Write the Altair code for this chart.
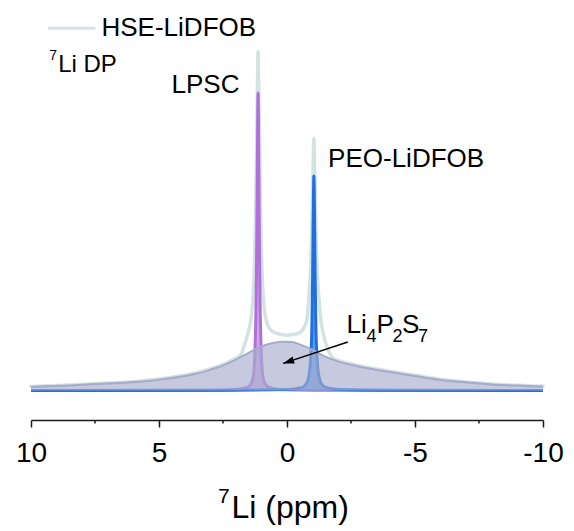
import altair as alt
import pandas as pd

# ---------------- data ----------------
# HSE-LiDFOB (light envelope line)
hse_ppm = [10, 8.5, 7, 6, 5, 4, 3, 2.5, 2, 1.8,
           1.6, 1.5, 1.4, 1.33, 1.27, 1.22, 1.18, 1.15, 1.13, 1.11,
           1.08, 1.04, 0.99, 0.93, 0.86, 0.76, 0.6, 0.4, 0.2, 0,
           -0.2, -0.4, -0.55, -0.68, -0.78, -0.85, -0.91, -0.96, -1.0, -1.03,
           -1.05, -1.07, -1.1, -1.14, -1.19, -1.25, -1.32, -1.42, -1.58, -1.8,
           -2, -2.5, -3, -4, -5, -6, -7, -8, -10]
hse_val = [0.012, 0.016, 0.022, 0.026, 0.034, 0.045, 0.064, 0.077, 0.095, 0.106,
           0.150, 0.175, 0.215, 0.27, 0.372, 0.54, 0.77, 0.92, 1.0, 0.92,
           0.78, 0.55, 0.38, 0.28, 0.226, 0.195, 0.176, 0.169, 0.165, 0.163,
           0.165, 0.168, 0.174, 0.188, 0.212, 0.27, 0.34, 0.45, 0.59, 0.695,
           0.744, 0.69, 0.59, 0.45, 0.34, 0.27, 0.21, 0.165, 0.125, 0.095,
           0.088, 0.079, 0.07, 0.057, 0.045, 0.033, 0.025, 0.019, 0.013]

# LPSC (purple)
lpsc_ppm = [10, 3, 2, 1.6, 1.45, 1.35, 1.29, 1.25, 1.21, 1.18, 1.15, 1.13,
            1.11, 1.08, 1.05, 1.01, 0.97, 0.91, 0.81, 0.66, 0.3, -1, -10]
lpsc_val = [0, 0.001, 0.003, 0.008, 0.015, 0.03, 0.06, 0.12, 0.25, 0.45, 0.75, 0.878,
            0.75, 0.45, 0.25, 0.12, 0.06, 0.03, 0.015, 0.008, 0.003, 0.001, 0]

# PEO-LiDFOB (blue)
peo_ppm = [10, 2, 0, -0.55, -0.7, -0.8, -0.87, -0.92, -0.97, -1.0, -1.03, -1.05,
           -1.07, -1.1, -1.13, -1.18, -1.23, -1.3, -1.4, -1.55, -2.1, -4, -10]
peo_val = [0, 0.001, 0.003, 0.008, 0.015, 0.027, 0.05, 0.09, 0.18, 0.33, 0.55, 0.633,
           0.55, 0.33, 0.18, 0.09, 0.05, 0.027, 0.015, 0.008, 0.003, 0.001, 0]

# Li4P2S7 (broad component)
li_ppm = [10, 8.5, 7, 6, 5, 4, 3.5, 3, 2.5, 2, 1.5, 1, 0.5, 0.2,
          -0.2, -0.5, -1, -1.5, -2, -2.5, -3, -4, -5, -6, -7, -8, -10]
li_val = [0.011, 0.015, 0.021, 0.025, 0.032, 0.043, 0.050, 0.061, 0.074, 0.091, 0.111, 0.130, 0.141, 0.144,
          0.143, 0.136, 0.120, 0.100, 0.086, 0.076, 0.068, 0.055, 0.043, 0.031, 0.024, 0.018, 0.012]

major_ticks = [10, 5, 0, -5, -10]
minor_ticks = [7.5, 2.5, -2.5, -7.5]

# annotations (text, anchor ppm, anchor intensity, font size)
ann_text = ["HSE-LiDFOB", "7", "Li DP", "LPSC", "PEO-LiDFOB",
            "Li", "4", "P", "2", "S", "7", "7", "Li (ppm)"]
ann_x = [7.246, 9.29, 8.94, 4.512, -1.605,
         -2.324, -3.105, -3.496, -4.121, -4.496, -5.121, 2.691, 2.168]
ann_y = [1.046, 0.975, 0.941, 0.879, 0.659,
         0.169, 0.142, 0.169, 0.142, 0.169, 0.142, -0.332, -0.377]
ann_size = [26, 14, 24, 26, 26, 26, 18, 26, 18, 26, 18, 21, 32]

legend_x = [9.33]
legend_x2 = [7.48]
legend_y = [1.069]

arrow_from = [-2.375, 0.143]
arrow_to = [0.15, 0.080]

FONT = "Liberation Sans"

# ---------------- chart ----------------
xs = alt.Scale(domain=[10, -10], nice=False, zero=False)
ys = alt.Scale(domain=[-0.0871, 1.1231], nice=False, zero=False)

xaxis = alt.Axis(values=major_ticks, title=None, grid=False,
                 tickSize=7, tickWidth=1.5, tickColor="#1a1a1a",
                 domainColor="#1a1a1a", domainWidth=1.5,
                 labelFont=FONT, labelFontSize=28, labelColor="black",
                 labelPadding=12, labelFlush=False, labelOverlap=False,
                 labelExpr="'' + datum.value")


def X(field="ppm"):
    return alt.X(f"{field}:Q", scale=xs, axis=xaxis)


def Y(field="val"):
    return alt.Y(f"{field}:Q", scale=ys, axis=None)


hse_df = pd.DataFrame({"ppm": hse_ppm, "val": hse_val})
lpsc_df = pd.DataFrame({"ppm": lpsc_ppm, "val": lpsc_val})
peo_df = pd.DataFrame({"ppm": peo_ppm, "val": peo_val})
li_df = pd.DataFrame({"ppm": li_ppm, "val": li_val})

hse_line = alt.Chart(hse_df).mark_line(
    color="#d3e2e2", strokeWidth=3.5, interpolate="monotone", strokeCap="round"
).encode(x=X(), y=Y())

lpsc_area = alt.Chart(lpsc_df).mark_area(
    color="#c59be4", opacity=0.85, interpolate="monotone"
).encode(x=X(), y=Y())
lpsc_line = alt.Chart(lpsc_df).mark_line(
    color="#b16fdc", strokeWidth=3, interpolate="monotone"
).encode(x=X(), y=Y())

peo_area = alt.Chart(peo_df).mark_area(
    color="#4a8fe8", opacity=0.85, interpolate="monotone"
).encode(x=X(), y=Y())
peo_line = alt.Chart(peo_df).mark_line(
    color="#1f6fe0", strokeWidth=3, interpolate="monotone"
).encode(x=X(), y=Y())

li_area = alt.Chart(li_df).mark_area(
    color="#a9aecd", opacity=0.65, interpolate="monotone"
).encode(x=X(), y=Y())
li_line = alt.Chart(li_df).mark_line(
    color="#a6abcd", strokeWidth=2, interpolate="monotone"
).encode(x=X(), y=Y())

leg_df = pd.DataFrame({"x": legend_x, "x2": legend_x2, "y": legend_y})
legend_rule = alt.Chart(leg_df).mark_rule(color="#d3e2e2", strokeWidth=3).encode(
    x=X("x"), x2="x2:Q", y=Y("y"))

arr_df = pd.DataFrame({"x": [arrow_from[0]], "y": [arrow_from[1]],
                       "x2": [arrow_to[0]], "y2": [arrow_to[1]]})
arrow_line = alt.Chart(arr_df).mark_rule(color="black", strokeWidth=1.5).encode(
    x=X("x"), y=Y("y"), x2="x2:Q", y2="y2:Q")
head_df = pd.DataFrame({"x": [arrow_to[0]], "y": [arrow_to[1]]})
arrow_head = alt.Chart(head_df).mark_point(
    shape="M0,0L-0.65,2L0.65,2Z", filled=True, color="black", opacity=1,
    size=121, angle=252
).encode(x=X("x"), y=Y("y"))

ann_df = pd.DataFrame({"t": ann_text, "x": ann_x, "y": ann_y, "fs": ann_size})
texts = alt.Chart(ann_df).mark_text(
    align="left", baseline="alphabetic", font=FONT, color="black"
).encode(x=X("x"), y=Y("y"), text="t:N", size=alt.Size("fs:Q", scale=None, legend=None))

minor_df = pd.DataFrame({"ppm": minor_ticks})
minor = alt.Chart(minor_df).mark_rule(color="#1a1a1a", strokeWidth=1.5).encode(
    x=X(), y=alt.value(410), y2=alt.value(413.5))

chart = alt.layer(
    hse_line, lpsc_area, lpsc_line, peo_area, peo_line, li_area, li_line,
    legend_rule, arrow_line, arrow_head, texts, minor
).properties(
    width=512, height=410,
    autosize=alt.AutoSizeParams(type="none"),
    padding={"left": 31, "top": 10, "right": 31, "bottom": 111},
    background="white",
).configure_view(stroke=None)

chart.save("out.html", embed_options={"renderer": "svg", "actions": False})
